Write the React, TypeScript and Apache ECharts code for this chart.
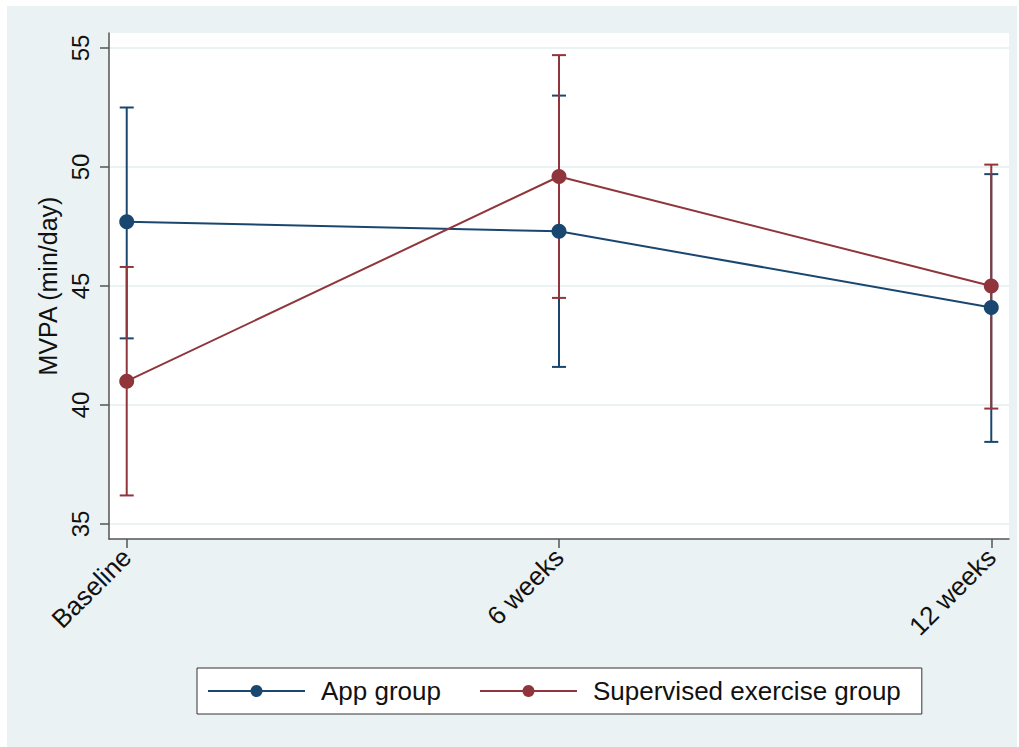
import React, { useEffect, useRef } from "react";
import * as echarts from "echarts";

const categories = ["Baseline", "6 weeks", "12 weeks"];
const yTicks = [35, 40, 45, 50, 55];

const appMean = [47.7, 47.3, 44.1];
const appLower = [42.8, 41.6, 38.45];
const appUpper = [52.5, 53.0, 49.7];

const supMean = [41.0, 49.6, 45.0];
const supLower = [36.2, 44.5, 39.85];
const supUpper = [45.8, 54.7, 50.1];

const BLUE = "#1a476f";
const RED = "#90353b";
const BG = "#eaf2f3";
const FONT = "Liberation Sans, Arial, Helvetica, sans-serif";

function ciSeries(name: string, lower: number[], upper: number[], color: string) {
  return {
    name,
    type: "custom",
    z: 2,
    data: lower.map((lo, i) => [i, lo, upper[i]]),
    encode: { x: 0, y: [1, 2] },
    renderItem: (params: any, api: any) => {
      const x = api.value(0);
      const pLo = api.coord([x, api.value(1)]);
      const pHi = api.coord([x, api.value(2)]);
      const w = 7;
      const style = { stroke: color, lineWidth: 2 };
      return {
        type: "group",
        children: [
          { type: "line", shape: { x1: pLo[0], y1: pLo[1], x2: pHi[0], y2: pHi[1] }, style },
          { type: "line", shape: { x1: pLo[0] - w, y1: pLo[1], x2: pLo[0] + w, y2: pLo[1] }, style },
          { type: "line", shape: { x1: pHi[0] - w, y1: pHi[1], x2: pHi[0] + w, y2: pHi[1] }, style },
        ],
      };
    },
  };
}

function lineSeries(name: string, values: number[], color: string) {
  return {
    name,
    type: "line",
    z: 3,
    data: values.map((v, i) => [i, v]),
    symbol: "circle",
    symbolSize: 15,
    lineStyle: { color, width: 2 },
    itemStyle: { color },
  };
}

export default function App() {
  const ref = useRef<HTMLDivElement>(null);
  useEffect(() => {
    const chart = echarts.init(ref.current!, undefined, { renderer: "svg" });
    chart.setOption({
      animation: false,
      backgroundColor: "#ffffff",
      textStyle: { fontFamily: FONT },
      graphic: [
        {
          type: "rect",
          z: -10,
          silent: true,
          shape: { x: 7, y: 6, width: 1010, height: 741 },
          style: { fill: BG },
        },
      ],
      grid: {
        left: 109,
        right: 10,
        top: 33,
        bottom: 208,
        show: true,
        backgroundColor: "#ffffff",
        borderWidth: 0,
      },
      legend: {
        left: 197,
        top: 668,
        data: ["App group", "Supervised exercise group"],
        backgroundColor: "#ffffff",
        borderColor: "#333333",
        borderWidth: 1,
        borderRadius: 0,
        padding: [10, 21, 10, 10],
        itemGap: 38,
        itemWidth: 97,
        itemHeight: 15,
        textStyle: { fontSize: 26, color: "#111", fontFamily: FONT, padding: [0, 0, 0, 11] },
      },
      xAxis: {
        type: "value",
        min: -0.041,
        max: 2.041,
        axisLine: { show: true, onZero: false, lineStyle: { color: "#555", width: 1.5 } },
        axisTick: { show: true, customValues: [0, 1, 2], length: 9, lineStyle: { color: "#555", width: 1.5 } },
        axisLabel: {
          customValues: [0, 1, 2],
          formatter: (v: number) => categories[Math.round(v)] ?? "",
          rotate: 45,
          fontSize: 26,
          color: "#111",
          margin: 14,
          fontFamily: FONT,
        },
        splitLine: { show: false },
      },
      yAxis: {
        type: "value",
        min: 34.37,
        max: 55.63,
        name: "MVPA (min/day)",
        nameLocation: "middle",
        nameRotate: 90,
        nameGap: 47,
        nameTextStyle: { fontSize: 25, color: "#111", fontFamily: FONT },
        axisLine: { show: true, onZero: false, lineStyle: { color: "#555", width: 1.5 } },
        axisTick: { show: true, customValues: yTicks, length: 9, lineStyle: { color: "#555", width: 1.5 } },
        axisLabel: {
          customValues: yTicks,
          rotate: 90,
          fontSize: 24,
          color: "#111",
          margin: 17,
          fontFamily: FONT,
        },
        splitLine: { show: true, lineStyle: { color: BG, width: 2 } },
      },
      series: [
        ciSeries("App CI", appLower, appUpper, BLUE),
        ciSeries("Supervised CI", supLower, supUpper, RED),
        lineSeries("App group", appMean, BLUE),
        lineSeries("Supervised exercise group", supMean, RED),
      ],
    });
    return () => chart.dispose();
  }, []);
  return (
    <div
      ref={ref}
      style={{ position: "absolute", left: 0, top: 0, width: 1019, height: 747 }}
    />
  );
}
